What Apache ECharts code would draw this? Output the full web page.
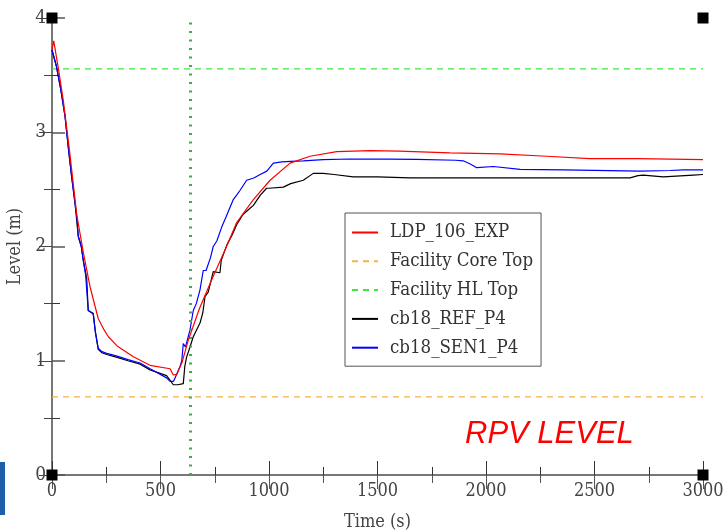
<!DOCTYPE html>
<html><head><meta charset="utf-8">
<script src="https://cdn.jsdelivr.net/npm/echarts@6/dist/echarts.min.js"></script>
<style>html,body{margin:0;padding:0;background:#fff}#c{width:726px;height:531px}</style>
</head><body><div id="c"></div>
<script>
// ---- data ----
const tExp = [0, 8, 14, 30, 52, 80, 114, 144, 175, 213, 240, 260, 300, 375, 452, 544, 559, 575, 600, 628, 680, 743, 800, 851, 928, 1005, 1097, 1189, 1312, 1465, 1600, 1834, 2065, 2280, 2479, 2700, 3000];
const vExp = [3.72, 3.80, 3.79, 3.55, 3.28, 2.85, 2.28, 1.95, 1.65, 1.37, 1.27, 1.21, 1.13, 1.035, 0.96, 0.93, 0.875, 0.88, 0.99, 1.18, 1.46, 1.74, 1.98, 2.21, 2.41, 2.58, 2.73, 2.79, 2.83, 2.84, 2.835, 2.82, 2.81, 2.79, 2.77, 2.77, 2.76];

const tSen = [0, 6, 20, 40, 60, 75, 90, 106, 115, 121, 135, 144, 155, 167, 175, 190, 200, 213, 230, 252, 300, 350, 406, 452, 528, 544, 560, 567, 590, 598, 605, 615, 636, 651, 665, 682, 697, 710, 730, 743, 760, 782, 800, 835, 851, 866, 897, 930, 959, 990, 1020, 1060, 1100, 1158, 1250, 1373, 1550, 1680, 1860, 1895, 1930, 1957, 2034, 2157, 2356, 2710, 2850, 2909, 3000];
const vSen = [3.72, 3.72, 3.58, 3.38, 3.14, 2.87, 2.62, 2.38, 2.25, 2.09, 2.0, 1.88, 1.75, 1.44, 1.45, 1.415, 1.25, 1.11, 1.08, 1.065, 1.04, 1.01, 0.98, 0.93, 0.85, 0.82, 0.82, 0.85, 0.95, 1.0, 1.15, 1.12, 1.27, 1.44, 1.50, 1.62, 1.79, 1.79, 1.90, 2.0, 2.05, 2.17, 2.25, 2.41, 2.45, 2.49, 2.58, 2.60, 2.63, 2.66, 2.73, 2.74, 2.745, 2.75, 2.76, 2.766, 2.765, 2.763, 2.755, 2.75, 2.72, 2.69, 2.70, 2.675, 2.67, 2.66, 2.665, 2.67, 2.67];

const tRef = [0, 6, 20, 40, 60, 75, 90, 106, 121, 135, 144, 160, 167, 190, 200, 213, 230, 252, 300, 350, 406, 452, 528, 540, 559, 580, 605, 612, 620, 636, 651, 660, 682, 695, 705, 720, 743, 774, 780, 805, 830, 851, 880, 910, 928, 960, 989, 1000, 1066, 1100, 1158, 1204, 1250, 1300, 1388, 1500, 1650, 1834, 2065, 2400, 2664, 2700, 2725, 2817, 2955, 3000];
const vRef = [3.72, 3.72, 3.58, 3.38, 3.14, 2.87, 2.62, 2.38, 2.09, 2.0, 1.88, 1.72, 1.44, 1.41, 1.25, 1.10, 1.07, 1.055, 1.03, 1.0, 0.97, 0.92, 0.87, 0.84, 0.79, 0.79, 0.80, 0.95, 1.03, 1.12, 1.21, 1.22, 1.33, 1.42, 1.56, 1.60, 1.78, 1.77, 1.88, 2.01, 2.10, 2.19, 2.28, 2.33, 2.36, 2.45, 2.51, 2.51, 2.52, 2.55, 2.58, 2.64, 2.64, 2.63, 2.61, 2.61, 2.60, 2.60, 2.60, 2.60, 2.60, 2.62, 2.625, 2.61, 2.625, 2.63];

const coreTop = 0.683;
const hlTop = 3.554;
const eventTime = 636;
const xRange = [0, 3000];
const yRange = [0, 4];
const seriesNames = ['LDP_106_EXP', 'Facility Core Top', 'Facility HL Top', 'cb18_REF_P4', 'cb18_SEN1_P4'];
const chartLabel = 'RPV LEVEL';
const xName = 'Time (s)';
const yName = 'Level (m)';

// ---- build ----
const zip = (t, v) => t.map((x, i) => [x, v[i]]);
const flat = v => [[xRange[0], v], [xRange[1], v]];
const corners = [[xRange[0], yRange[0]], [xRange[0], yRange[1]], [xRange[1], yRange[0]], [xRange[1], yRange[1]]];
const FONT = "'DejaVu Serif Condensed', 'DejaVu Serif', serif";

const chart = echarts.init(document.getElementById('c'), null, {renderer: 'canvas'});
chart.setOption({
  animation: false,
  backgroundColor: '#fff',
  grid: {left: 52, right: 23, top: 18, bottom: 56, containLabel: false, outerBoundsMode: 'none'},
  title: {
    text: chartLabel, left: 460, top: 414,
    textStyle: {color: '#ff0000', fontStyle: 'italic', fontWeight: 'normal', fontSize: 31, fontFamily: "'Liberation Sans', Arial, sans-serif"}
  },
  legend: {
    show: true,
    orient: 'vertical', left: 345, top: 213,
    padding: [10, 8, 9, 6],
    itemWidth: 26, itemHeight: 14, itemGap: 9.8,
    itemStyle: {opacity: 0},
    borderColor: '#555', borderWidth: 1, backgroundColor: '#fff',
    textStyle: {fontFamily: FONT, fontSize: 18.5, color: '#333', padding: [0, 0, 0, 7]},
    data: seriesNames.slice()
  },
  xAxis: [{
    type: 'value', min: xRange[0], max: xRange[1], interval: 500,
    name: xName, nameLocation: 'middle', nameGap: 38,
    nameTextStyle: {fontFamily: FONT, fontSize: 18, color: '#444'},
    axisLine: {lineStyle: {color: '#555', width: 2}},
    axisTick: {inside: true, length: 14, lineStyle: {color: '#333', width: 1}},
    minorTick: {show: true, splitNumber: 2, length: 8, lineStyle: {color: '#333', width: 1}},
    axisLabel: {fontFamily: FONT, fontSize: 18, color: '#444', margin: 7, formatter: v => String(v)},
    splitLine: {show: false}
  }, {
    type: 'value', position: 'top', min: xRange[0], max: xRange[1], interval: 500,
    axisLine: {show: true, lineStyle: {color: '#777', width: 2}},
    axisTick: {inside: true, length: 14, lineStyle: {color: '#555', width: 1}},
    minorTick: {show: true, splitNumber: 2, length: 8, lineStyle: {color: '#555', width: 1}},
    axisLabel: {show: false}, splitLine: {show: false}
  }],
  yAxis: [{
    type: 'value', min: yRange[0], max: yRange[1], interval: 1,
    name: yName, nameLocation: 'middle', nameGap: 25, nameRotate: 90,
    nameTextStyle: {fontFamily: FONT, fontSize: 18, color: '#444'},
    axisLine: {show: true, lineStyle: {color: '#000', width: 1.5}},
    axisTick: {inside: true, length: 13, lineStyle: {color: '#555', width: 1.5}},
    minorTick: {show: true, splitNumber: 2, length: 8, lineStyle: {color: '#333', width: 1}},
    axisLabel: {fontFamily: FONT, fontSize: 19, color: '#444', margin: 6, formatter: v => String(v)},
    splitLine: {show: false}
  }, {
    type: 'value', position: 'right', min: yRange[0], max: yRange[1], interval: 1,
    axisLine: {show: true, lineStyle: {color: '#777', width: 2}},
    axisTick: {inside: true, length: 13, lineStyle: {color: '#444', width: 1}},
    minorTick: {show: true, splitNumber: 2, length: 8, lineStyle: {color: '#444', width: 1}},
    axisLabel: {show: false}, splitLine: {show: false}
  }],
  graphic: [{type: 'rect', shape: {x: 0, y: 462, width: 5, height: 53}, style: {fill: '#1f5fa8'}}],
  series: [
    {name: seriesNames[0], type: 'line', data: zip(tExp, vExp), symbol: 'none', color: '#ff0000',
     lineStyle: {color: '#ff0000', width: 1.2}, z: 5},
    {name: seriesNames[1], type: 'line', data: flat(coreTop), symbol: 'none', color: '#f5b342',
     lineStyle: {color: '#f5b342', width: 1.2, type: [6, 5]}, z: 2},
    {name: seriesNames[2], type: 'line', data: flat(hlTop), symbol: 'none', color: '#3ee83e',
     lineStyle: {color: '#3ee83e', width: 1.2, type: [6, 5]}, z: 2,
     markLine: {silent: true, symbol: 'none', label: {show: false},
       lineStyle: {color: '#3cb043', width: 3, type: [2, 6.5]},
       data: [{xAxis: eventTime}]}},
    {name: seriesNames[3], type: 'line', data: zip(tRef, vRef), symbol: 'none', color: '#000',
     lineStyle: {color: '#000', width: 1.2}, z: 3},
    {name: seriesNames[4], type: 'line', data: zip(tSen, vSen), symbol: 'none', color: '#0000ff',
     lineStyle: {color: '#0000ff', width: 1.2}, z: 4},
    {type: 'scatter', data: corners, symbol: 'rect', symbolSize: 11, itemStyle: {color: '#000', opacity: 1},
     clip: false, silent: true, z: 10}
  ]
});
</script></body></html>
